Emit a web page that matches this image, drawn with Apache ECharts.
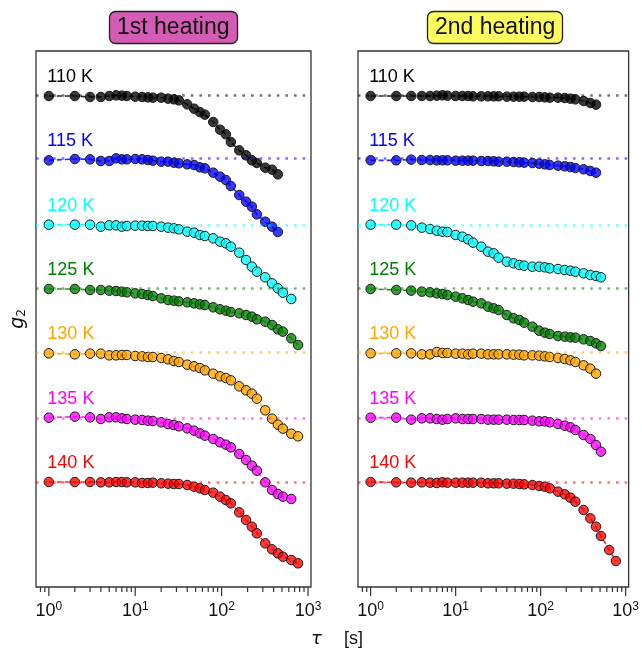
<!DOCTYPE html>
<html><head><meta charset="utf-8">
<script src="https://cdn.jsdelivr.net/npm/echarts@6/dist/echarts.min.js"></script>
<style>html,body{margin:0;padding:0;background:#fff}#c{width:642px;height:653px}</style>
</head><body><div id="c"></div>
<script>
// lag times tau [s] (multi-tau scheme); each series uses the first N of them
const TAU = [1,2,3,4,5,6,7,8,10,12,14,16,20,24,28,32,40,48,56,64,80,96,112,128,160,192,224,256,320,384,448,512,640,768];
const TEMPS = ['110 K','115 K','120 K','125 K','130 K','135 K','140 K'];
const COLORS = ['#000000','#0000ff','#00ffff','#008000','#ffa500','#ff00ff','#ff0000'];
const PANEL_TITLES = ['1st heating','2nd heating'];
const PANEL_COLORS = ['#d45cb4','#fbfb5e'];
const X_TICK_MAJOR = [1,10,100,1000];
const X_TICK_MINOR = [0.8,0.9,2,3,4,5,6,7,8,9,20,30,40,50,60,70,80,90,200,300,400,500,600,700,800,900];
const BASE = 1.3;      // plateau value of g2
const STEP = 0.193;    // vertical shift between temperatures

// ---- 1st heating ----
const H1_110 = [1.300,1.300,1.297,1.297,1.300,1.302,1.301,1.300,1.298,1.297,1.296,1.295,1.295,1.292,1.290,1.287,1.275,1.262,1.252,1.244,1.222,1.199,1.185,1.162,1.137,1.122,1.107,1.099,1.085,1.079,1.065];
const H1_115 = [1.300,1.304,1.303,1.298,1.298,1.306,1.303,1.303,1.304,1.303,1.301,1.299,1.296,1.296,1.293,1.291,1.288,1.286,1.279,1.276,1.263,1.251,1.241,1.223,1.196,1.176,1.161,1.138,1.116,1.101,1.085];
const H1_120 = [1.300,1.300,1.300,1.294,1.298,1.298,1.294,1.296,1.297,1.297,1.296,1.296,1.294,1.291,1.289,1.286,1.279,1.276,1.269,1.266,1.259,1.249,1.244,1.234,1.216,1.194,1.174,1.159,1.142,1.124,1.109,1.096,1.077];
const H1_125 = [1.300,1.300,1.297,1.297,1.295,1.294,1.292,1.290,1.287,1.285,1.282,1.279,1.272,1.267,1.265,1.263,1.260,1.257,1.254,1.252,1.245,1.239,1.235,1.231,1.227,1.222,1.217,1.209,1.202,1.192,1.179,1.172,1.152,1.132];
const H1_130 = [1.300,1.297,1.299,1.299,1.294,1.294,1.295,1.295,1.292,1.291,1.289,1.289,1.286,1.282,1.277,1.274,1.266,1.261,1.256,1.249,1.239,1.231,1.226,1.219,1.201,1.189,1.179,1.164,1.129,1.104,1.086,1.074,1.059,1.051];
const H1_135 = [1.300,1.303,1.301,1.296,1.301,1.301,1.298,1.296,1.294,1.293,1.291,1.290,1.286,1.281,1.278,1.274,1.268,1.261,1.253,1.246,1.236,1.226,1.219,1.211,1.191,1.173,1.156,1.141,1.106,1.083,1.071,1.063,1.056];
const H1_140 = [1.300,1.300,1.300,1.299,1.299,1.300,1.300,1.299,1.299,1.297,1.297,1.298,1.296,1.295,1.294,1.294,1.291,1.286,1.281,1.276,1.268,1.256,1.246,1.236,1.209,1.186,1.166,1.146,1.116,1.098,1.086,1.076,1.066,1.056];
// ---- 2nd heating ----
const H2_110 = [1.300,1.300,1.300,1.300,1.300,1.301,1.302,1.301,1.300,1.300,1.300,1.299,1.299,1.299,1.299,1.299,1.298,1.298,1.298,1.298,1.297,1.297,1.296,1.295,1.295,1.294,1.292,1.290,1.285,1.279,1.274];
const H2_115 = [1.300,1.300,1.302,1.301,1.301,1.300,1.300,1.300,1.299,1.299,1.299,1.299,1.298,1.298,1.297,1.296,1.296,1.295,1.294,1.293,1.292,1.290,1.288,1.286,1.284,1.282,1.280,1.277,1.273,1.268,1.263];
const H2_120 = [1.300,1.300,1.298,1.291,1.287,1.282,1.279,1.278,1.269,1.264,1.256,1.246,1.234,1.219,1.214,1.201,1.189,1.184,1.179,1.177,1.174,1.174,1.172,1.169,1.167,1.164,1.162,1.159,1.154,1.149,1.146,1.142];
const H2_125 = [1.300,1.297,1.295,1.292,1.290,1.287,1.285,1.282,1.277,1.272,1.267,1.262,1.257,1.247,1.242,1.237,1.222,1.212,1.207,1.199,1.187,1.175,1.169,1.165,1.159,1.157,1.155,1.154,1.149,1.144,1.137,1.129];
const H2_130 = [1.300,1.300,1.300,1.297,1.297,1.304,1.301,1.301,1.299,1.299,1.297,1.299,1.299,1.297,1.297,1.297,1.297,1.296,1.296,1.294,1.294,1.293,1.291,1.289,1.286,1.283,1.279,1.274,1.264,1.254,1.239];
const H2_135 = [1.300,1.300,1.294,1.298,1.298,1.296,1.294,1.296,1.298,1.296,1.296,1.296,1.296,1.294,1.294,1.294,1.294,1.293,1.293,1.293,1.291,1.289,1.289,1.286,1.281,1.276,1.271,1.263,1.248,1.236,1.218,1.198];
const H2_140 = [1.300,1.299,1.298,1.299,1.298,1.297,1.299,1.298,1.298,1.298,1.298,1.298,1.298,1.296,1.296,1.296,1.295,1.295,1.294,1.293,1.291,1.288,1.286,1.281,1.271,1.263,1.253,1.241,1.216,1.191,1.166,1.138,1.096,1.063];

const PANELS = [
  [H1_110,H1_115,H1_120,H1_125,H1_130,H1_135,H1_140],
  [H2_110,H2_115,H2_120,H2_125,H2_130,H2_135,H2_140]
];

const X_MIN = 0.71, X_MAX = 1084;
const Y_MIN = 0.985, Y_MAX = 2.593;
const FONT = 'Liberation Sans, Arial, Helvetica, sans-serif';

function hexToRgba(h, a){
  const r = parseInt(h.slice(1,3),16), g = parseInt(h.slice(3,5),16), b = parseInt(h.slice(5,7),16);
  return 'rgba(' + r + ',' + g + ',' + b + ',' + a + ')';
}

const series = [];
PANELS.forEach(function(arrs, gi){
  arrs.forEach(function(arr, k){
    const off = (TEMPS.length - 1 - k) * STEP;
    const col = COLORS[k];
    series.push({
      type: 'line', xAxisIndex: gi, yAxisIndex: gi, name: TEMPS[k] + gi,
      data: arr.map(function(v, i){ return [TAU[i], v + off]; }),
      symbol: 'circle', symbolSize: 9.5, showSymbol: true,
      lineStyle: { color: col, width: 1.6, type: [5, 3], opacity: 0.85 },
      itemStyle: { color: hexToRgba(col, 0.78), borderColor: '#1a1a1a', borderWidth: 1 },
      z: 3,
      markLine: {
        silent: true, symbol: ['none','none'], animation: false,
        label: { show: false },
        lineStyle: { color: col, opacity: 0.55, type: [2.6, 6], width: 2.6 },
        data: [{ yAxis: BASE + off }]
      },
      markPoint: {
        silent: true, animation: false,
        symbol: 'rect', symbolSize: 1, itemStyle: { color: 'rgba(0,0,0,0)' },
        label: { show: true, position: 'right', distance: 0, offset: [-2, 0],
                 formatter: TEMPS[k], color: col, fontSize: 18, fontFamily: FONT },
        data: [{ coord: [1, BASE + off + 0.057] }]
      }
    });
  });
  const tickData = X_TICK_MAJOR.map(function(t){ return [t, Y_MIN, 9]; })
    .concat(X_TICK_MINOR.map(function(t){ return [t, Y_MIN, 5]; }));
  series.push({
    type: 'custom', xAxisIndex: gi, yAxisIndex: gi, silent: true, clip: false,
    data: tickData, encode: { x: 0, y: 1 }, z: 5,
    renderItem: function(params, api){
      const p = api.coord([api.value(0), api.value(1)]);
      const len = api.value(2);
      return { type: 'line', shape: { x1: p[0], y1: p[1], x2: p[0], y2: p[1] + len },
               style: { stroke: '#333', lineWidth: 1.2 } };
    }
  });
});

function xAxisFor(gi){
  return {
    type: 'log', logBase: 10, gridIndex: gi, min: X_MIN, max: X_MAX,
    axisLine: { show: false }, axisTick: { show: false }, splitLine: { show: false },
    axisLabel: {
      margin: 14, color: '#111',
      formatter: function(v){
        const l = Math.log10(v);
        if (Math.abs(l - Math.round(l)) > 1e-6) return '';
        return '{b|10}{s|' + Math.round(l) + '}';
      },
      rich: {
        b: { fontSize: 18, fontFamily: FONT, color: '#111' },
        s: { fontSize: 12, fontFamily: FONT, color: '#111', padding: [0, 0, 9, 0] }
      }
    }
  };
}
function yAxisFor(gi){
  const a = {
    type: 'value', gridIndex: gi, min: Y_MIN, max: Y_MAX,
    axisLine: { show: false }, axisTick: { show: false }, axisLabel: { show: false }, splitLine: { show: false }
  };
  if (gi === 0) {
    a.name = '{g|g}{s|2}';
    a.nameLocation = 'middle';
    a.nameGap = 8;
    a.nameTextStyle = { rich: {
      g: { fontSize: 19, fontStyle: 'italic', fontFamily: 'DejaVu Sans', color: '#111' },
      s: { fontSize: 12, fontFamily: 'DejaVu Sans', color: '#111', padding: [8, 0, 0, 0] }
    }};
  }
  return a;
}

const titleBase = { top: 11, padding: [5, 8], borderRadius: 6, borderWidth: 1.3, borderColor: '#222',
  textStyle: { fontSize: 23, fontWeight: 'normal', fontFamily: FONT, color: '#111' } };

const option = {
  animation: false,
  backgroundColor: '#fff',
  title: [
    Object.assign({}, titleBase, { text: PANEL_TITLES[0], left: 109, backgroundColor: PANEL_COLORS[0] }),
    Object.assign({}, titleBase, { text: PANEL_TITLES[1], left: 427, backgroundColor: PANEL_COLORS[1] }),
    { text: '{t|τ}{u|[s]}', left: 311, top: 630, padding: 0,
      textStyle: { fontWeight: 'normal', rich: {
        t: { fontSize: 18, fontStyle: 'italic', fontWeight: 'normal', fontFamily: 'DejaVu Sans', color: '#111', width: 33 },
        u: { fontSize: 18, fontWeight: 'normal', fontFamily: FONT, color: '#111' }
      }}}
  ],
  grid: [
    { left: 36, right: 331, top: 51, bottom: 66, show: true, borderColor: '#333', borderWidth: 1.3, backgroundColor: 'transparent' },
    { left: 358, right: 10, top: 51, bottom: 66, show: true, borderColor: '#333', borderWidth: 1.3, backgroundColor: 'transparent' }
  ],
  xAxis: [xAxisFor(0), xAxisFor(1)],
  yAxis: [yAxisFor(0), yAxisFor(1)],
  series: series
};

const chart = echarts.init(document.getElementById('c'), null, { renderer: 'canvas' });
chart.setOption(option);
</script>
</body></html>
